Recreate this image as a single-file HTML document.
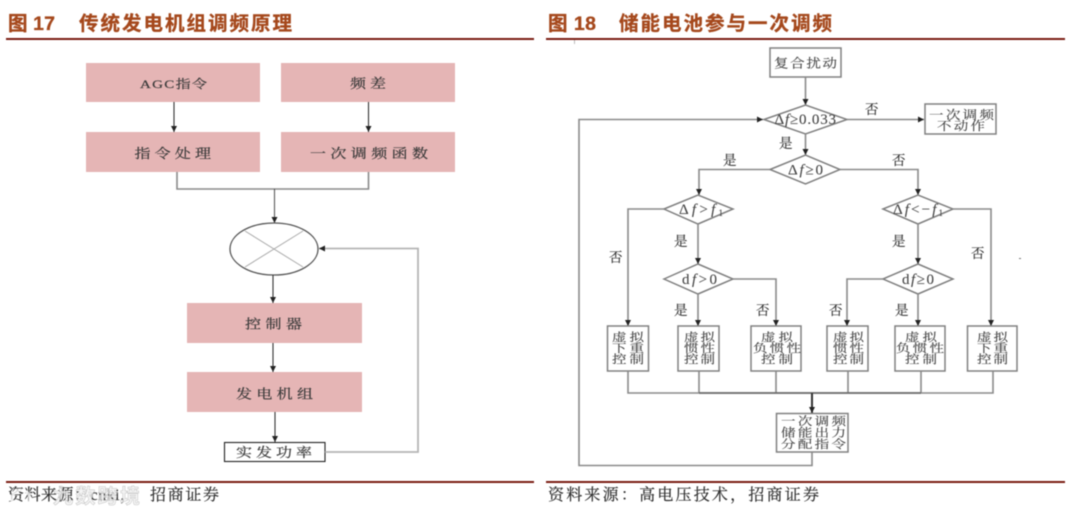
<!DOCTYPE html>
<html lang="zh">
<head>
<meta charset="utf-8">
<title>图 17 图 18</title>
<style>
html,body{margin:0;padding:0;background:#fff;width:1080px;height:516px;overflow:hidden}
svg{display:block;filter:blur(.5px)}
text{font-family:"Liberation Serif","Noto Serif CJK SC",serif;fill:#333}
.t{font-family:"Liberation Sans","Noto Sans CJK SC",sans-serif;font-weight:700;font-size:19.500px;fill:#a5481c;stroke:#a5481c;stroke-width:.3}
.l{font-size:16px;fill:#3a3a3a;stroke:#3a3a3a;stroke-width:.25}
.r{font-size:13.500px;fill:#333;stroke:#333;stroke-width:.15}
.m{font-size:15px;fill:#444;stroke:#444;stroke-width:.1}
.s{font-size:14.500px;fill:#444;stroke:#444;stroke-width:.15}
.f{font-size:16px;fill:#2e2e2e;stroke:#2e2e2e;stroke-width:.2}
.g{fill:none;stroke:#8a8a8a;stroke-width:1.600}
.k{fill:none;stroke:#333;stroke-width:1.100}
.gb{fill:#fff;stroke:#808080;stroke-width:1.500}
i{font-style:italic}
</style>
</head>
<body>
<svg width="1080" height="516" viewBox="0 0 1080 516" xmlns="http://www.w3.org/2000/svg">
<defs>
<marker id="a" markerWidth="7" markerHeight="6" refX="6" refY="3" orient="auto" markerUnits="userSpaceOnUse"><path d="M0 0L6 3L0 6Z" fill="#222"/></marker>
</defs>

<!-- Titles and rules -->
<text class="t" x="8" y="30" textLength="47">图 17</text>
<text class="t" x="79" y="30" textLength="213">传统发电机组调频原理</text>
<rect x="6" y="38" width="528" height="2" fill="#7a1c14"/>
<text class="t" x="548" y="30" textLength="48">图 18</text>
<text class="t" x="619" y="30" textLength="213">储能电池参与一次调频</text>
<rect x="546" y="38" width="519" height="2" fill="#7a1c14"/>
<rect x="574" y="40" width="1" height="4" fill="#bbb"/>

<!-- Left diagram -->
<g fill="#e5b5b5">
<rect x="86" y="63" width="174" height="39"/>
<rect x="281" y="63" width="174" height="39"/>
<rect x="86" y="132" width="174" height="40"/>
<rect x="281" y="132" width="174" height="40"/>
<rect x="187" y="303" width="175" height="40"/>
<rect x="187" y="372" width="175" height="40"/>
</g>
<path class="k" d="M174 102V132" marker-end="url(#a)"/>
<path class="k" d="M368.500 102V132" marker-end="url(#a)"/>
<path class="g" d="M177 172V189H368.500V172"/>
<path class="k" stroke-opacity=".8" d="M274.500 189V223" marker-end="url(#a)"/>
<ellipse cx="274" cy="249" rx="44" ry="26" fill="#fff" stroke="#555" stroke-width="1.300"/>
<path d="M245 231L303 267M303 231L245 267" stroke="#aaa" stroke-width="1" fill="none"/>
<path class="k" d="M273 275V303" marker-end="url(#a)"/>
<path class="k" d="M273 343V372" marker-end="url(#a)"/>
<path class="k" d="M275 412V442" marker-end="url(#a)"/>
<rect x="224.500" y="442.500" width="100.500" height="19" fill="#fff" stroke="#222" stroke-width="1.100"/>
<path d="M325 452H418V248.500H319" fill="none" stroke="#b5b5b5" stroke-width="1.800" marker-end="url(#a)"/>
<text class="l" style="font-size:15px" transform="translate(140 88) scale(1 .8)" textLength="67">AGC指令</text>
<text class="l" transform="translate(350 88) scale(1 .8)" textLength="36">频差</text>
<text class="l" transform="translate(134.500 158) scale(1 .8)" textLength="76.500">指令处理</text>
<text class="l" transform="translate(310 158) scale(1 .8)" textLength="118">一次调频函数</text>
<text class="l" transform="translate(245 328.500) scale(1 .8)" textLength="57">控制器</text>
<text class="l" transform="translate(236 398.500) scale(1 .8)" textLength="77">发电机组</text>
<text class="l" transform="translate(236 457) scale(1 .8)" textLength="76">实发功率</text>

<!-- Right diagram -->
<rect class="gb" x="770" y="48" width="71" height="29"/>
<path class="g" stroke="#555" d="M805.500 77V105" marker-end="url(#a)"/>
<polygon class="gb" points="764,119.500 805.500,105 847,119.500 805.500,134"/>
<path class="g" d="M847 119.500H924" marker-end="url(#a)"/>
<rect class="gb" x="925" y="104" width="71" height="30"/>
<path class="g" d="M805.500 134V155" marker-end="url(#a)"/>
<polygon class="gb" points="770,169.500 805.500,155 840,169.500 805.500,184"/>
<path class="g" d="M770 169.500H699V195" marker-end="url(#a)"/>
<path class="g" d="M840 169.500H918V195" marker-end="url(#a)"/>
<polygon class="gb" points="664,209 698,195 733,209 698,224"/>
<polygon class="gb" points="883,209 918,195 953,209 918,224"/>
<polygon class="gb" points="664,279 698,264 733,279 698,294"/>
<polygon class="gb" points="883,279 918,264 953,279 918,294"/>
<path class="g" d="M664 209H628V326" marker-end="url(#a)"/>
<path class="g" d="M698 224V264" marker-end="url(#a)"/>
<path class="g" d="M918 224V264" marker-end="url(#a)"/>
<path class="g" d="M953 209H991V326" marker-end="url(#a)"/>
<path class="g" d="M698 294V326" marker-end="url(#a)"/>
<path class="g" d="M733 279H776V326" marker-end="url(#a)"/>
<path class="g" d="M883 279H847V326" marker-end="url(#a)"/>
<path class="g" d="M918 294V326" marker-end="url(#a)"/>
<rect class="gb" x="607.500" y="326" width="41" height="45"/>
<rect class="gb" x="678" y="326" width="41" height="45"/>
<rect class="gb" x="751" y="326" width="50" height="45"/>
<rect class="gb" x="827" y="326" width="41" height="45"/>
<rect class="gb" x="895" y="326" width="50" height="45"/>
<rect class="gb" x="967.500" y="326" width="49.500" height="45"/>
<path class="g" d="M628 371V393H993V371M699 371V393M776 371V393M848 371V393M921 371V393"/>
<path d="M699 393H921" fill="none" stroke="#6e6e6e" stroke-width="1.700"/>
<path d="M812 393V413" fill="none" stroke="#333" stroke-width="2" marker-end="url(#a)"/>
<rect class="gb" x="776.500" y="413.500" width="71.500" height="38.500"/>
<path class="g" d="M812 452V465.500H579V119.500H763" marker-end="url(#a)"/>

<text class="s" transform="translate(774 67.500) scale(1 .85)" textLength="63">复合扰动</text>
<text class="m" x="774.500" y="124" textLength="61.500">Δ<tspan font-style="italic">f</tspan>≥0.033</text>
<text class="r" x="865" y="114">否</text>
<text class="s" transform="translate(929 119) scale(1 .82)" textLength="65">一次调频</text>
<text class="s" transform="translate(937 130) scale(1 .82)" textLength="48">不动作</text>
<text class="r" x="779" y="148">是</text>
<text class="r" x="723" y="165">是</text>
<text class="r" x="892" y="165">否</text>
<text class="m" x="788" y="174.500" textLength="35">Δ<tspan font-style="italic">f</tspan>≥0</text>
<text class="m" x="679" y="214" textLength="44">Δ<tspan font-style="italic">f</tspan>&gt;<tspan font-style="italic">f</tspan><tspan font-size="9" dy="2">1</tspan></text>
<text class="m" x="893" y="214" textLength="50">Δ<tspan font-style="italic">f</tspan>&lt;−<tspan font-style="italic">f</tspan><tspan font-size="9" dy="2">1</tspan></text>
<text class="m" x="682" y="284" textLength="35">d<tspan font-style="italic">f</tspan>&gt;0</text>
<text class="m" x="902" y="284" textLength="32">d<tspan font-style="italic">f</tspan>≥0</text>
<text class="r" x="609" y="262">否</text>
<text class="r" x="674" y="246">是</text>
<text class="r" x="892" y="246">是</text>
<text class="r" x="971" y="258">否</text>
<text class="r" x="674" y="315">是</text>
<text class="r" x="756" y="315">否</text>
<text class="r" x="829" y="315">否</text>
<text class="r" x="895" y="315">是</text>

<text class="s" transform="translate(612 341) scale(1 .78)" textLength="32">虚拟</text>
<text class="s" transform="translate(612 352) scale(1 .78)" textLength="32">下重</text>
<text class="s" transform="translate(612 363) scale(1 .78)" textLength="32">控制</text>
<text class="s" transform="translate(684 341) scale(1 .78)" textLength="31">虚拟</text>
<text class="s" transform="translate(684 352) scale(1 .78)" textLength="31">惯性</text>
<text class="s" transform="translate(684 363) scale(1 .78)" textLength="31">控制</text>
<text class="s" transform="translate(761 341) scale(1 .78)" textLength="32">虚拟</text>
<text class="s" transform="translate(753 352) scale(1 .78)" textLength="48">负惯性</text>
<text class="s" transform="translate(761 363) scale(1 .78)" textLength="32">控制</text>
<text class="s" transform="translate(833 341) scale(1 .78)" textLength="31">虚拟</text>
<text class="s" transform="translate(833 352) scale(1 .78)" textLength="31">惯性</text>
<text class="s" transform="translate(833 363) scale(1 .78)" textLength="31">控制</text>
<text class="s" transform="translate(905 341) scale(1 .78)" textLength="32">虚拟</text>
<text class="s" transform="translate(896 352) scale(1 .78)" textLength="48">负惯性</text>
<text class="s" transform="translate(905 363) scale(1 .78)" textLength="32">控制</text>
<text class="s" transform="translate(977 341) scale(1 .78)" textLength="31">虚拟</text>
<text class="s" transform="translate(977 352) scale(1 .78)" textLength="31">下重</text>
<text class="s" transform="translate(977 363) scale(1 .78)" textLength="31">控制</text>
<text class="s" transform="translate(781 425) scale(1 .78)" textLength="65">一次调频</text>
<text class="s" transform="translate(781 436.500) scale(1 .78)" textLength="65">储能出力</text>
<text class="s" transform="translate(781 448) scale(1 .78)" textLength="65">分配指令</text>
<rect x="1019" y="258" width="2" height="1" fill="#777"/>

<!-- Footers -->
<rect x="6" y="481" width="528" height="2" fill="#7a1c14"/>
<rect x="546" y="481" width="519" height="2" fill="#7a1c14"/>
<text class="f" x="8" y="500" textLength="128">资料来源：cnki，</text>
<text class="f" x="150" y="500" textLength="69">招商证券</text>
<text class="f" x="548" y="500" textLength="271">资料来源：高电压技术，招商证券</text>
<!-- Watermark -->
<circle cx="21" cy="499" r="9" fill="none" stroke="#fff" stroke-opacity=".8" stroke-width="3"/>
<text x="53" y="503" font-size="20" style="fill:#f2f2f2;stroke:#b5b5b5;stroke-width:.6;stroke-opacity:.7;fill-opacity:.75;font-family:'Liberation Sans','Noto Sans CJK SC',sans-serif;font-weight:700" textLength="87">九数跨境</text>
</svg>
</body>
</html>
